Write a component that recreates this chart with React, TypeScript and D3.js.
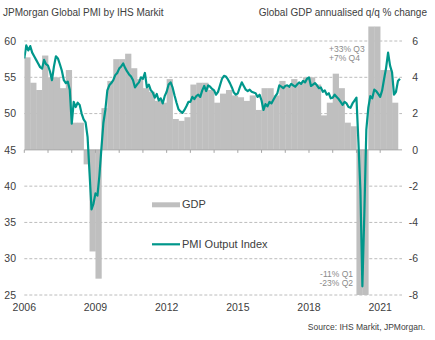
import React from "react";
import * as d3 from "d3";

const xTickLabels = [2006, 2009, 2012, 2015, 2018, 2021];
const yearTicks = [2006, 2007, 2008, 2009, 2010, 2011, 2012, 2013, 2014, 2015, 2016, 2017, 2018, 2019, 2020, 2021];
const leftTicks = [25, 30, 35, 40, 45, 50, 55, 60];
const rightTicks = [-8, -6, -4, -2, 0, 2, 4, 6];

const startYear = 2006;

// Global GDP annualised q/q % change, quarterly from 2006 Q1
const gdpValues = [
  5.1, 3.7, 3.3, 5.2,
  4.0, 4.0, 3.4, 4.4,
  1.5, 1.5, -0.8, -5.6,
  -7.1, 2.3, 3.8, 5.0,
  5.0, 5.3, 4.5, 3.9,
  3.4, 3.2, 2.7, 2.6,
  3.9, 1.7, 1.6, 1.8,
  3.6, 3.7, 3.7, 3.3,
  2.6, 3.1, 3.3, 3.0,
  2.9, 2.7, 3.0, 2.2,
  3.4, 3.4, 3.0, 3.8,
  3.5, 3.9, 3.7, 4.0,
  4.0, 3.6, 1.9, 2.6,
  4.2, 3.4, 1.5, 1.3,
  -11, -23, 33, 7,
  4.4, 4.4, 2.6,
];

// JPMorgan Global PMI Output Index, monthly from Jan 2006
const pmiValues = [
  57.6, 59.4, 58.7, 59.3, 58.4, 57.9, 57.4, 56.9, 56.4, 56.2, 57.4, 56.8,
  56.6, 55.8, 54.6, 56.5, 57.9, 57.6, 56.8, 55.9, 54.6, 54.2, 54.4, 53.3,
  48.6, 51.6, 50.9, 51.5, 51.2, 50.0, 49.2, 48.8, 46.8, 41.8, 36.8, 37.6,
  39.0, 38.7, 41.5, 45.2, 48.7, 50.5, 53.2, 53.9, 54.2, 54.6, 55.3, 55.6,
  56.2, 56.5, 56.9, 56.3, 55.8, 55.4, 55.1, 54.6, 53.6, 54.0, 54.3, 55.0,
  54.8, 55.6, 53.6, 54.0, 53.2, 52.9, 52.2, 52.7, 51.8, 52.1, 51.4, 52.4,
  53.0, 54.0, 54.3, 53.6, 52.5, 51.5, 50.6, 50.3, 50.1, 50.5, 51.0, 51.6,
  51.6, 52.3, 52.0, 52.4, 52.6, 52.3, 53.2, 53.8, 53.1, 53.9, 53.7, 53.4,
  53.2, 52.6, 53.0, 53.9, 54.8, 55.2, 55.1, 54.7, 54.2, 53.6, 52.9, 52.6,
  52.8, 53.6, 54.3, 53.8, 53.3, 53.1, 53.3, 53.0, 52.9, 52.8, 52.3, 52.6,
  51.8, 50.5, 51.3, 51.0, 51.6, 51.4, 51.9, 52.4, 52.8, 53.9, 53.7, 53.5,
  53.8, 53.9, 53.7, 54.1, 53.9, 53.7, 54.0, 54.3, 54.1, 54.5, 54.3, 54.8,
  55.0, 53.8, 54.0, 54.2, 53.9, 53.5, 53.6, 53.0, 53.2, 52.6, 52.8, 52.1,
  52.2, 52.6, 52.3, 52.0, 51.6, 51.2, 51.6, 51.4, 50.9, 50.8, 51.4, 51.8,
  52.2, 46.1, 39.4, 26.2, 36.3, 47.8, 50.8, 52.4, 52.1, 53.3, 53.1, 52.7,
  52.3, 53.2, 54.8, 56.3, 58.4, 56.6, 55.7, 52.6, 53.0, 54.5, 54.8,
];

const legendLabels = ["GDP", "PMI Output Index"];
const topNotes = ["+33% Q3", "+7% Q4"];
const bottomNotes = ["-11% Q1", "-23% Q2"];
const titleLeft = "JPMorgan Global PMI by IHS Markit";
const titleRight = "Global GDP annualised q/q % change";
const sourceText = "Source: IHS Markit, JPMorgan.";

const FONT = "'Liberation Sans', Arial, Helvetica, sans-serif";
const TEAL = "#00978b";
const BAR = "#bfbfbf";
const GRID = "#bcbcbc";
const TEXT = "#404040";
const NOTE = "#8a8a8a";

export default function App() {
  const W = 435;
  const H = 340;
  const x = d3.scaleLinear().domain([2006, 2021.92]).range([24.3, 402]);
  const yL = d3.scaleLinear().domain([25, 62]).range([295, 26.5]);
  const yR = d3.scaleLinear().domain([-8, 6.8]).range([295, 26.5]);
  const [x0, x1] = x.range();
  const [yBottom, yTop] = yL.range();

  const line = d3
    .line<number>()
    .x((_, i) => x(startYear + i / 12))
    .y((d) => yL(d));

  const axisY = yL(45);

  return (
    <svg
      width={W}
      height={H}
      style={{ position: "absolute", left: 0, top: 0, background: "#fff" }}
      fontFamily={FONT}
    >
      <defs>
        <clipPath id="plot">
          <rect x={x0} y={yTop} width={x1 - x0} height={yBottom - yTop} />
        </clipPath>
      </defs>
      {/* titles */}
      <text x={3} y={16} fontSize={10} fill={TEXT}>
        {titleLeft}
      </text>
      <text x={427} y={16} fontSize={10} fill={TEXT} textAnchor="end">
        {titleRight}
      </text>

      {/* grid */}
      {leftTicks
        .filter((t) => t !== 45)
        .map((t) => (
          <line
            key={"g" + t}
            x1={x0}
            x2={x1}
            y1={yL(t)}
            y2={yL(t)}
            stroke={GRID}
            strokeWidth={1}
            strokeDasharray="3,2"
          />
        ))}

      {/* GDP bars */}
      <g clipPath="url(#plot)">
        {gdpValues.map((v, i) => {
          const xa = x(startYear + i / 4);
          const xb = x(startYear + (i + 1) / 4);
          const ya = yR(Math.max(0, v));
          const yb = yR(Math.min(0, v));
          return (
            <rect
              key={"b" + i}
              x={xa}
              width={xb - xa + 0.3}
              y={ya}
              height={Math.max(0, yb - ya)}
              fill={BAR}
            />
          );
        })}
      </g>

      {/* x axis line at 45 / 0 */}
      <line x1={x0} x2={x1} y1={axisY} y2={axisY} stroke="#a6a6a6" strokeWidth={1} />
      {yearTicks.map((yr) => (
        <line
          key={"t" + yr}
          x1={x(yr)}
          x2={x(yr)}
          y1={axisY}
          y2={axisY + 3}
          stroke="#a6a6a6"
          strokeWidth={1}
        />
      ))}

      {/* PMI line */}
      <g clipPath="url(#plot)">
        <path
          d={line(pmiValues) || ""}
          fill="none"
          stroke={TEAL}
          strokeWidth={2.2}
          strokeLinejoin="round"
        />
      </g>

      {/* left axis labels */}
      {leftTicks.map((t) => (
        <text
          key={"l" + t}
          x={16}
          y={yL(t)}
          dy="0.35em"
          fontSize={10.5}
          fill={TEXT}
          textAnchor="end"
        >
          {t}
        </text>
      ))}
      {/* right axis labels */}
      {rightTicks.map((t) => (
        <text
          key={"r" + t}
          x={418}
          y={yR(t)}
          dy="0.35em"
          fontSize={10.5}
          fill={TEXT}
          textAnchor="end"
        >
          {t}
        </text>
      ))}
      {/* bottom labels */}
      {xTickLabels.map((t) => (
        <text
          key={"x" + t}
          x={x(t)}
          y={310.5}
          fontSize={10.5}
          fill={TEXT}
          textAnchor="middle"
        >
          {t}
        </text>
      ))}

      {/* annotations */}
      {topNotes.map((s, i) => (
        <text key={"tn" + i} x={329} y={52 + i * 8.5} fontSize={8.5} fill={NOTE}>
          {s}
        </text>
      ))}
      {bottomNotes.map((s, i) => (
        <text
          key={"bn" + i}
          x={353}
          y={276.5 + i * 9.5}
          fontSize={8.5}
          fill={NOTE}
          textAnchor="end"
        >
          {s}
        </text>
      ))}

      {/* legend */}
      <rect x={152} y={202.3} width={28} height={5} fill={BAR} />
      <text x={182} y={204.5} dy="0.35em" fontSize={11} fill={TEXT}>
        {legendLabels[0]}
      </text>
      <line x1={152} x2={180} y1={244.3} y2={244.3} stroke={TEAL} strokeWidth={2.2} />
      <text x={182} y={244.3} dy="0.35em" fontSize={11} fill={TEXT}>
        {legendLabels[1]}
      </text>

      {/* source */}
      <text x={425} y={330} fontSize={8.5} fill={TEXT} textAnchor="end">
        {sourceText}
      </text>
    </svg>
  );
}
